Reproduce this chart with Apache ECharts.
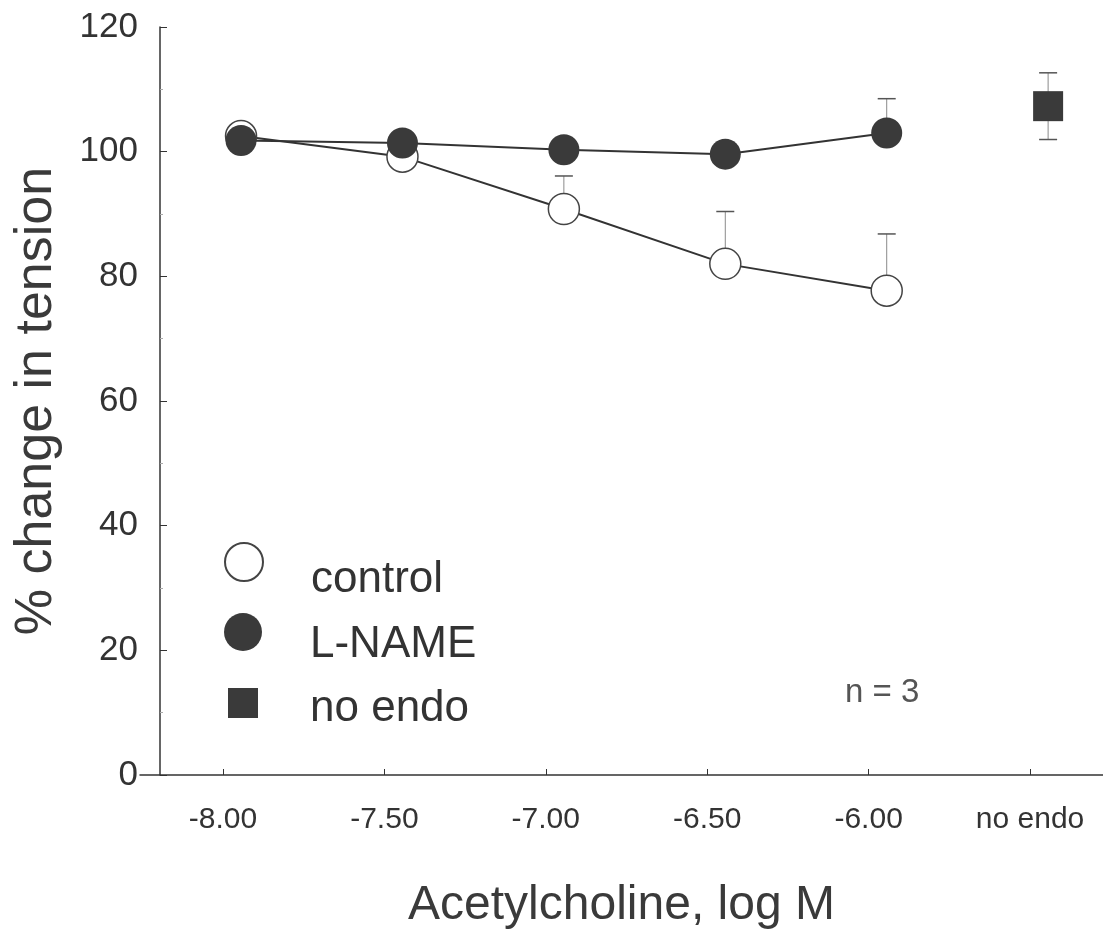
<!DOCTYPE html>
<html>
<head>
<meta charset="utf-8">
<title>Acetylcholine response</title>
<script src="https://cdn.jsdelivr.net/npm/echarts@6/dist/echarts.min.js"></script>
<style>
  html, body { margin: 0; padding: 0; background: #ffffff; }
  #chart { width: 1103px; height: 935px; }
</style>
</head>
<body>
<div id="chart"></div>
<script>
// Acetylcholine concentrations (log M)
const concentrations = [-8.0, -7.5, -7.0, -6.5, -6.0];

// control: mean % change in tension and SEM
const controlMean = [102.5, 99.2, 90.8, 82.0, 77.7];
const controlSem = [0, 0, 5.3, 8.4, 9.1];

// L-NAME treated: mean and SEM
const lnameMean = [101.8, 101.4, 100.3, 99.6, 103.0];
const lnameSem = [0, 0, 0, 0, 5.5];

// endothelium-denuded rings, shown in their own slot after the curve
const noEndoSlot = -5.5;
const noEndoMean = 107.3;
const noEndoSem = 5.35;

// x axis tick positions and their labels
const xTickValues = [-8.0, -7.5, -7.0, -6.5, -6.0, -5.5];
const xTickLabels = ['-8.00', '-7.50', '-7.00', '-6.50', '-6.00', 'no endo'];

const INK = '#333333';
const FONT = '"Liberation Sans", Arial, Helvetica, sans-serif';

// visible axis range, and a small rightward shift of the plotted marks
const xMin = -8.257, xMax = -5.274, markShift = 0.056;

function labelFor(v) {
  const i = xTickValues.findIndex(t => Math.abs(t - v) < 1e-6);
  return i >= 0 ? xTickLabels[i] : '';
}

const pairs = (xs, ys) => xs.map((x, i) => [x, ys[i]]);

const errorRows = [];
concentrations.forEach((x, i) => {
  if (controlSem[i] > 0) errorRows.push([x, controlMean[i], controlSem[i], 0]);
  if (lnameSem[i] > 0) errorRows.push([x, lnameMean[i], lnameSem[i], 0]);
});
errorRows.push([noEndoSlot, noEndoMean, noEndoSem, 1]);

function renderErrorBar(params, api) {
  const x = api.value(0), m = api.value(1), s = api.value(2), both = api.value(3);
  const top = api.coord([x, m + s]);
  const bottom = both ? api.coord([x, m - s]) : api.coord([x, m]);
  const half = 9;
  const children = [
    { type: 'line', shape: { x1: top[0], y1: top[1], x2: bottom[0], y2: bottom[1] },
      style: { stroke: '#8a8a8a', lineWidth: 1 } },
    { type: 'line', shape: { x1: top[0] - half, y1: top[1], x2: top[0] + half, y2: top[1] },
      style: { stroke: '#555555', lineWidth: 1.5 } }
  ];
  if (both) {
    children.push({ type: 'line', shape: { x1: bottom[0] - half, y1: bottom[1], x2: bottom[0] + half, y2: bottom[1] },
      style: { stroke: '#555555', lineWidth: 1.5 } });
  }
  return { type: 'group', children };
}

// one legend block per entry, so each row can sit at its own height
function legendAt(name, top, icon, size, drop) {
  return {
    data: [{ name, icon }],
    orient: 'vertical',
    left: 243 - size / 2,
    top: top - size / 2,
    padding: 0,
    itemWidth: size,
    itemHeight: size,
    selectedMode: false,
    formatter: '{t|{name}}',
    textStyle: {
      fontFamily: FONT, fontSize: 44, color: INK,
      padding: [0, 0, 0, 310 - (243 + size / 2) - 5],
      rich: {
        t: { fontFamily: FONT, fontSize: 44, color: INK, padding: [drop, 0, 0, 0] }
      }
    }
  };
}

const chart = echarts.init(document.getElementById('chart'), null, { renderer: 'canvas' });

chart.setOption({
  animation: false,
  backgroundColor: '#ffffff',
  grid: { left: 140, right: 0, top: 27, bottom: 159, containLabel: false },
  legend: [
    legendAt('control', 561, 'circle', 38, 36),
    legendAt('L-NAME', 632, 'circle', 38, 26),
    legendAt('no endo', 702, 'rect', 30, 12)
  ],
  xAxis: [
    {
      type: 'value', min: xMin, max: xMax,
      name: 'Acetylcholine, log M',
      nameLocation: 'middle', nameGap: 107,
      nameTextStyle: { fontFamily: FONT, fontSize: 48, color: '#3a3a3a' },
      axisLine: { show: true, onZero: false, lineStyle: { color: INK, width: 1.5 } },
      axisTick: { show: true, inside: true, length: 6, customValues: xTickValues, lineStyle: { color: INK, width: 1 } },
      axisLabel: { show: true, customValues: xTickValues, margin: 30, formatter: labelFor,
        fontFamily: FONT, fontSize: 30, color: INK },
      splitLine: { show: false }
    },
    {
      type: 'value', min: xMin - markShift, max: xMax - markShift, show: false
    }
  ],
  yAxis: {
    type: 'value', min: 0, max: 120, interval: 20,
    offset: -20,
    name: '% change in tension',
    nameLocation: 'middle', nameGap: 97,
    nameTextStyle: { fontFamily: FONT, fontSize: 52, color: '#3a3a3a' },
    axisLine: { show: true, lineStyle: { color: INK, width: 1.5 } },
    axisTick: { show: true, inside: true, length: 7, lineStyle: { color: INK, width: 1 } },
    minorTick: { show: true, splitNumber: 2, length: 3, lineStyle: { color: '#aaaaaa' } },
    axisLabel: { margin: 22, fontFamily: FONT, fontSize: 35, color: INK, padding: [10, 0, 0, 0] },
    splitLine: { show: false }
  },
  series: [
    {
      type: 'custom', name: 'sem', xAxisIndex: 1, z: 1,
      renderItem: renderErrorBar,
      encode: { x: 0, y: [1, 2] },
      data: errorRows,
      silent: true
    },
    {
      name: 'control', type: 'line', xAxisIndex: 1, z: 3,
      data: pairs(concentrations, controlMean),
      symbol: 'circle', symbolSize: 31,
      lineStyle: { color: INK, width: 2 },
      itemStyle: { color: '#ffffff', borderColor: '#444444', borderWidth: 1.5 }
    },
    {
      name: 'L-NAME', type: 'line', xAxisIndex: 1, z: 4,
      data: pairs(concentrations, lnameMean),
      symbol: 'circle', symbolSize: 31,
      lineStyle: { color: INK, width: 2 },
      itemStyle: { color: '#3a3a3a', borderColor: '#3a3a3a', borderWidth: 0 }
    },
    {
      name: 'no endo', type: 'scatter', xAxisIndex: 1, z: 4,
      data: [[noEndoSlot, noEndoMean]],
      symbol: 'rect', symbolSize: 30,
      itemStyle: { color: '#3a3a3a', opacity: 1 }
    }
  ],
  graphic: [
    {
      type: 'text', left: 845, top: 676,
      style: { text: 'n = 3', fontFamily: FONT, fontSize: 33, fill: '#555555' }
    }
  ]
});
</script>
</body>
</html>
